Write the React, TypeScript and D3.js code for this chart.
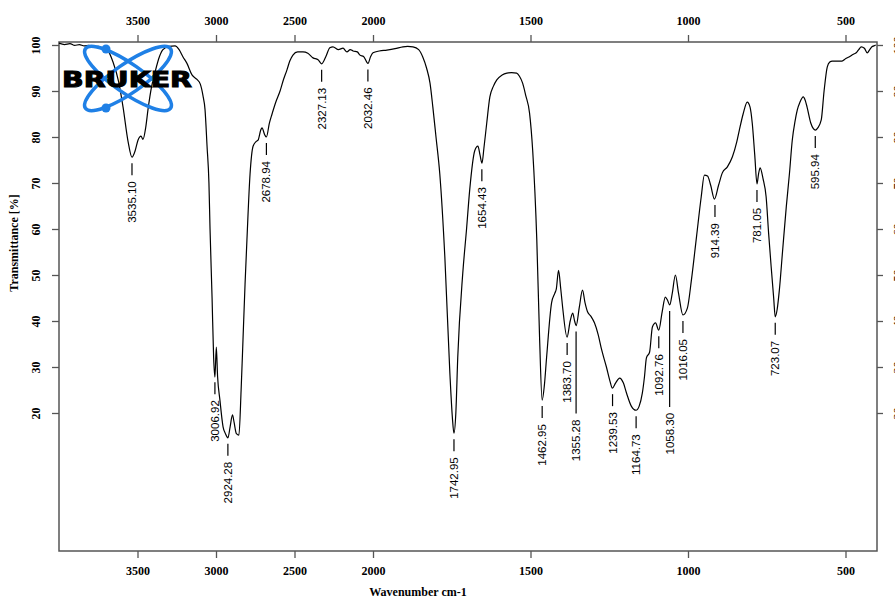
import React, { useEffect, useRef } from "react";
import * as d3 from "d3";

// spectrum (wavenumber cm-1, transmittance %)
const wavenumber = [
  4000, 3965, 3930, 3900, 3870, 3840, 3810, 3780, 3750, 3720, 3690, 3656, 3620, 3592, 3560, 3535,
  3515, 3497, 3478, 3465, 3448, 3433, 3410, 3389, 3360, 3338, 3300, 3261, 3235, 3210, 3185, 3153,
  3121, 3100, 3083, 3070, 3057, 3045, 3038, 3025, 3015, 3007, 2998, 2990, 2975, 2955, 2940, 2924,
  2910, 2895, 2885, 2870, 2854, 2840, 2828, 2815, 2803, 2783, 2764, 2745, 2732, 2715, 2707, 2690,
  2679, 2660, 2643, 2620, 2592, 2570, 2548, 2530, 2510, 2480, 2446, 2415, 2382, 2350, 2327, 2300,
  2275, 2255, 2220, 2191, 2166, 2145, 2127, 2100, 2083, 2060, 2032, 2015, 2000, 1980, 1956, 1930,
  1905, 1890, 1873, 1855, 1842, 1830, 1819, 1810, 1800, 1788, 1772, 1756, 1748, 1743, 1737, 1731,
  1715, 1703, 1693, 1677, 1667, 1660, 1654, 1648, 1639, 1629, 1618, 1607, 1590, 1575, 1560, 1544,
  1535, 1525, 1515, 1503, 1493, 1480, 1471, 1463, 1456, 1449, 1433, 1423, 1418, 1411, 1404, 1398,
  1384, 1374, 1366, 1360, 1355, 1345, 1335, 1327, 1319, 1308, 1297, 1285, 1274, 1259, 1248, 1240,
  1230, 1217, 1205, 1195, 1180, 1165, 1155, 1145, 1138, 1132, 1122, 1113, 1103, 1093, 1082, 1072,
  1065, 1058, 1050, 1040, 1030, 1016, 1002, 989, 973, 958, 948, 938, 928, 916, 903, 891,
  875, 859, 845, 837, 825, 812, 803, 796, 788, 781, 776, 771, 762, 752, 744, 736,
  728, 723, 717, 710, 700, 688, 678, 669, 660, 653, 645, 634, 628, 622, 610, 602,
  596, 588, 577, 568, 558, 550, 542, 525, 511, 500, 489, 475, 466, 458, 450, 440,
  431, 423, 416, 410, 404,
];
const transmittance = [
  100.4, 100.1, 100.3, 99.9, 100.1, 99.8, 99.9, 99.6, 99.7, 99.3, 98.8, 96.3, 92, 86.5, 79, 75.6,
  77, 79.3, 80.2, 79.5, 82, 86, 91, 94, 97.5, 99, 99.7, 99.8, 99, 97.4, 96, 93.5,
  92.5, 91.5, 89, 86, 78, 70, 60, 45, 32, 27.8, 34.3, 28, 22.8, 17, 15.5, 14.6,
  17, 19.6, 18, 15.5, 15.2, 25, 36, 48, 57.6, 72, 78, 79, 79.3, 81.5, 82, 80.5,
  80, 83, 85, 87.5, 90, 92.5, 94.6, 96.5, 97.8, 98.5, 98.5, 98.2, 97.2, 96.8, 95.9, 97.5,
  99.4, 99.6, 99, 99.3, 98.5, 99, 98.7, 98.5, 97.8, 97.5, 96, 97.5, 98.3, 98.7, 98.9, 99.2,
  99.6, 99.7, 99.6, 99, 97.4, 95, 91.7, 86.5, 80, 72, 54, 28.7, 19, 15.6, 20, 32,
  50.4, 60, 68.5, 77, 78, 76, 74.3, 77.5, 83, 88.7, 91, 92.4, 93.5, 93.9, 94, 93.9,
  93.2, 91.7, 89, 85.2, 77, 57.6, 35.9, 22.8, 26, 32, 44, 46, 47, 51, 47, 43,
  36.5, 40, 41.7, 40, 39, 43, 46.7, 44, 42, 41, 39.6, 37, 33.7, 30, 27, 25.4,
  26.5, 27.6, 26.5, 24.3, 21.5, 20.6, 21.5, 24.3, 28, 32, 33.2, 38.7, 39.6, 38, 42, 45.2,
  44.5, 43.5, 46, 50, 46, 41.3, 42.8, 49, 58.3, 67, 71.7, 71.5, 69.5, 66.5, 69.5, 72.2,
  73.5, 75.7, 79, 81.5, 85, 87.6, 86.5, 83, 76, 69.8, 72, 73.3, 71, 67, 59, 51.8,
  45, 40.9, 42.5, 46.7, 55, 64.8, 72, 79.3, 83.5, 85.9, 87.5, 88.7, 88, 86.5, 83, 81.8,
  81.5, 82, 83.7, 90, 95.2, 96.3, 96.5, 96.5, 96.5, 97, 97.4, 98, 98.3, 99, 99.6, 99.3,
  98.3, 99, 99.6, 99.8, 100,
];

const peakLabels = [
  "3535.10", "3006.92", "2924.28", "2678.94", "2327.13", "2032.46", "1742.95", "1654.43",
  "1462.95", "1383.70", "1355.28", "1239.53", "1164.73", "1092.76", "1058.30", "1016.05",
  "914.39", "781.05", "723.07", "595.94",
];
const peakT = [
  75.6, 28, 14.6, 80, 95.9, 96, 15.6, 74.3, 22.8, 36.5, 39, 25.4, 20.6, 38, 43.5, 41.3,
  66.5, 69.8, 40.9, 81.5,
];

const xTicks = [3500, 3000, 2500, 2000, 1500, 1000, 500];
const yTicks = [20, 30, 40, 50, 60, 70, 80, 90, 100];

// labels pushed lower with a long leader line
const longLeader: Record<string, number> = { "1355.28": 94, "1058.30": 108 };

const W = 895, H = 599;
const left = 59, right = 877, top = 42, bottom = 551;
const serif = "'Liberation Serif', 'Times New Roman', serif";
const sans = "'Liberation Sans', Arial, sans-serif";

export default function App() {
  const svgRef = useRef<SVGSVGElement>(null);

  useEffect(() => {
    const svg = d3.select(svgRef.current);
    svg.selectAll("*").remove();

    // Bruker-style axis: compressed above 2000 cm-1
    const x = d3.scaleLinear().domain([4000, 2000, 400]).range([left, 373, right]);
    const y = d3.scaleLinear().domain([-10, 100.65]).range([bottom, top]);

    const frameCol = "#555";

    // axes
    const gTop = svg.append("g").attr("transform", `translate(0,${top})`)
      .call(d3.axisTop(x).tickValues(xTicks).tickSize(7).tickPadding(10).tickSizeOuter(0).tickFormat(d3.format("d")));
    const gBot = svg.append("g").attr("transform", `translate(0,${bottom})`)
      .call(d3.axisBottom(x).tickValues(xTicks).tickSize(7).tickPadding(8).tickSizeOuter(0).tickFormat(d3.format("d")));
    const gLeft = svg.append("g").attr("transform", `translate(${left},0)`)
      .call(d3.axisLeft(y).tickValues(yTicks).tickSize(7).tickSizeOuter(0));
    const gRight = svg.append("g").attr("transform", `translate(${right},0)`)
      .call(d3.axisRight(y).tickValues(yTicks).tickSize(6).tickSizeOuter(0));

    [gTop, gBot, gLeft, gRight].forEach(g => {
      g.select(".domain").remove();
      g.selectAll("line").attr("stroke", frameCol).attr("stroke-width", 1.3);
      g.selectAll("text").attr("font-family", serif).attr("font-weight", "bold")
        .attr("font-size", 12).attr("fill", "#000");
    });

    gLeft.selectAll("text")
      .attr("x", null).attr("dy", null).attr("text-anchor", "middle")
      .attr("dominant-baseline", "central")
      .attr("transform", "translate(-23,0) rotate(-90)");
    gRight.selectAll("text")
      .attr("x", null).attr("dy", null).attr("text-anchor", "middle")
      .attr("dominant-baseline", "central").attr("fill", "#5a3418")
      .attr("transform", "translate(21,0) rotate(-90)");

    // frame
    svg.append("rect")
      .attr("x", left).attr("y", top)
      .attr("width", right - left).attr("height", bottom - top)
      .attr("fill", "none").attr("stroke", frameCol).attr("stroke-width", 1.5);

    // spectrum
    const pts: [number, number][] = wavenumber.map((w, i) => [w, transmittance[i]]);
    const line = d3.line<[number, number]>()
      .x(d => x(d[0])).y(d => y(d[1]))
      .curve(d3.curveMonotoneX);
    svg.append("path")
      .attr("d", line(pts))
      .attr("fill", "none").attr("stroke", "#000").attr("stroke-width", 1.2);

    // peak annotations
    const peaks = peakLabels.map((lab, i) => ({ lab, wn: parseFloat(lab), t: peakT[i] }));
    const pg = svg.append("g");
    peaks.forEach(p => {
      const px = x(p.wn);
      const py = y(p.t);
      const textTop = py + (longLeader[p.lab] ?? 24);
      pg.append("line")
        .attr("x1", px).attr("x2", px)
        .attr("y1", py + 6).attr("y2", textTop - 6)
        .attr("stroke", "#000").attr("stroke-width", 1.2);
      pg.append("text")
        .attr("transform", `translate(${px},${textTop}) rotate(-90)`)
        .attr("text-anchor", "end")
        .attr("dominant-baseline", "central")
        .attr("font-family", sans).attr("font-size", 11.5)
        .text(p.lab);
    });

    // axis titles
    svg.append("text")
      .attr("x", 418).attr("y", 596)
      .attr("text-anchor", "middle")
      .attr("font-family", serif).attr("font-weight", "bold").attr("font-size", 12)
      .text("Wavenumber cm-1");
    svg.append("text")
      .attr("transform", "translate(18,243) rotate(-90)")
      .attr("text-anchor", "middle")
      .attr("font-family", serif).attr("font-weight", "bold").attr("font-size", 12)
      .text("Transmittance [%]");

    // logo
    const logo = svg.append("g");
    const blue = "#1f80e6";
    [35, -35].forEach(a => {
      logo.append("ellipse")
        .attr("cx", 0).attr("cy", 0).attr("rx", 52).attr("ry", 14.5)
        .attr("transform", `translate(128,78.5) rotate(${a})`)
        .attr("fill", "none").attr("stroke", blue).attr("stroke-width", 3.5);
    });
    [[106, 49], [106, 108]].forEach(([cx, cy]) => {
      logo.append("circle").attr("cx", cx).attr("cy", cy).attr("r", 4.5).attr("fill", blue);
    });
    logo.append("text")
      .attr("x", 62).attr("y", 87)
      .attr("textLength", 130).attr("lengthAdjust", "spacingAndGlyphs")
      .attr("font-family", "'DejaVu Sans', sans-serif").attr("font-weight", "bold")
      .attr("font-size", 21).attr("fill", "#000")
      .attr("stroke", "#000").attr("stroke-width", 1)
      .text("BRUKER");
  }, []);

  return (
    <div style={{ position: "absolute", left: 0, top: 0 }}>
      <svg ref={svgRef} width={W} height={H} style={{ display: "block", background: "#fff" }} />
    </div>
  );
}
